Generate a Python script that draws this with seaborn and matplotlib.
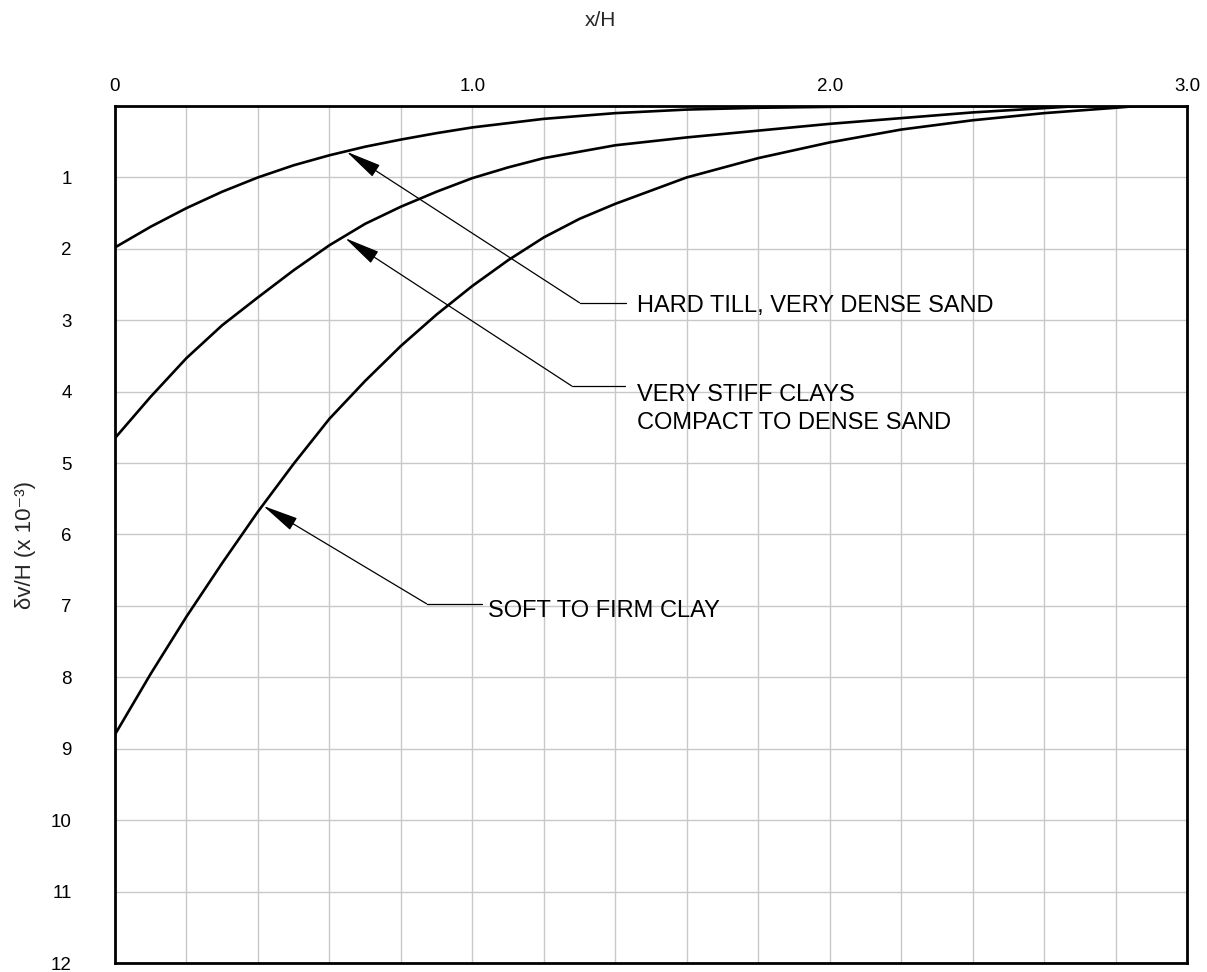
import numpy as np
import pandas as pd
import matplotlib
matplotlib.use("Agg")
import matplotlib.pyplot as plt
from matplotlib.ticker import MultipleLocator
import seaborn as sns

# Estilo
sns.set_theme(style="white")
plt.rcParams["font.family"] = ["Liberation Sans", "DejaVu Sans"]

# Curvas (x/H, dv/H x 10^-3)
hard_x = [0, 0.1, 0.2, 0.3, 0.4, 0.5, 0.6, 0.7, 0.8, 0.9, 1.0, 1.2, 1.4, 1.6, 1.8, 2.0, 2.2, 2.4, 2.6, 3.0]
hard_y = [1.98, 1.69, 1.43, 1.20, 1.00, 0.83, 0.69, 0.57, 0.47, 0.38, 0.30, 0.18, 0.10, 0.05,
          0.025, 0.012, 0.005, 0.002, 0.0, 0.0]

stiff_x = [0, 0.1, 0.2, 0.3, 0.4, 0.5, 0.6, 0.7, 0.8, 0.9, 1.0, 1.1, 1.2, 1.4, 1.6, 1.8, 2.0,
           2.2, 2.4, 2.6, 2.7, 3.0]
stiff_y = [4.65, 4.07, 3.53, 3.07, 2.68, 2.30, 1.95, 1.65, 1.41, 1.20, 1.01, 0.86, 0.73, 0.55,
           0.44, 0.345, 0.25, 0.17, 0.09, 0.03, 0.0, 0.0]

soft_x = [0, 0.1, 0.2, 0.3, 0.4, 0.5, 0.6, 0.7, 0.8, 0.9, 1.0, 1.1, 1.2, 1.3, 1.4, 1.6, 1.8,
          2.0, 2.2, 2.4, 2.6, 2.8, 2.86, 3.0]
soft_y = [8.80, 7.95, 7.15, 6.40, 5.68, 5.01, 4.38, 3.85, 3.36, 2.92, 2.52, 2.16, 1.84, 1.58,
          1.37, 1.00, 0.73, 0.51, 0.33, 0.20, 0.10, 0.025, 0.0, 0.0]

curve_names = ["hard", "stiff", "soft"]

x_ticks = [0, 1, 2, 3]
x_labels = ["0", "1.0", "2.0", "3.0"]
y_ticks = list(range(1, 13))
y_labels = [str(v) for v in y_ticks]

# Etiquetas: texto, punta de flecha, codo, fin de la linea horizontal, posicion del texto
labels = [
    (["HARD TILL, VERY DENSE SAND"], (0.648, 0.64), (1.30, 2.755), 1.43, 1.46, [2.89]),
    (["VERY STIFF CLAYS", "COMPACT TO DENSE SAND"], (0.644, 1.85), (1.278, 3.92), 1.427, 1.46, [4.125, 4.52]),
    (["SOFT TO FIRM CLAY"], (0.415, 5.60), (0.872, 6.97), 1.026, 1.045, [7.15]),
]

rows = []
for name, xs, ys in zip(curve_names, [hard_x, stiff_x, soft_x], [hard_y, stiff_y, soft_y]):
    for a, b in zip(xs, ys):
        rows.append({"curve": name, "x": a, "y": b})
df = pd.DataFrame(rows)

fig, ax = plt.subplots(figsize=(12.07, 9.72), dpi=100)
fig.subplots_adjust(left=115 / 1207, right=1187 / 1207, top=1 - 106 / 972, bottom=1 - 963 / 972)

sns.lineplot(data=df, x="x", y="y", hue="curve", palette=["black"] * 3,
             estimator=None, sort=False, legend=False, lw=1.9, ax=ax)

ax.set_xlim(0, 3)
ax.set_ylim(12, 0)
ax.xaxis.tick_top()
ax.set_xticks(x_ticks)
ax.set_xticklabels(x_labels)
ax.xaxis.set_minor_locator(MultipleLocator(0.2))
ax.set_yticks(y_ticks)
ax.set_yticklabels(y_labels)
ax.tick_params(axis="x", which="both", length=0, pad=8, labelsize=13.5, colors="black")
ax.tick_params(axis="y", which="both", length=0, pad=31, labelsize=13.5, colors="black")
for lab in ax.get_yticklabels():
    lab.set_horizontalalignment("right")
ax.grid(True, which="both", color="#c8c8c8", lw=1.0)
ax.set_axisbelow(True)
ax.set_xlabel("")
ax.set_ylabel("")
for sp in ax.spines.values():
    sp.set_visible(True)
    sp.set_color("black")
    sp.set_linewidth(2.0)

for texts, tip, elbow, end_x, tx, tys in labels:
    ax.annotate("", xy=tip, xytext=elbow,
                arrowprops=dict(arrowstyle="-|>,head_length=1.4,head_width=0.27",
                                color="black", lw=0.9, shrinkA=0, shrinkB=0,
                                mutation_scale=16))
    ax.plot([elbow[0], end_x], [elbow[1], elbow[1]], color="black", lw=0.9)
    for t, ty in zip(texts, tys):
        ax.text(tx, ty, t, fontsize=17, ha="left", va="baseline", color="black")

fig.text(600 / 1207, 1 - 20 / 972, "x/H", ha="center", va="center", fontsize=15)
fig.text(25 / 1207, 1 - 545 / 972, "δv/H (x 10⁻³)", rotation=90, ha="center", va="center", fontsize=16)

plt.savefig("out.png", dpi=100)
